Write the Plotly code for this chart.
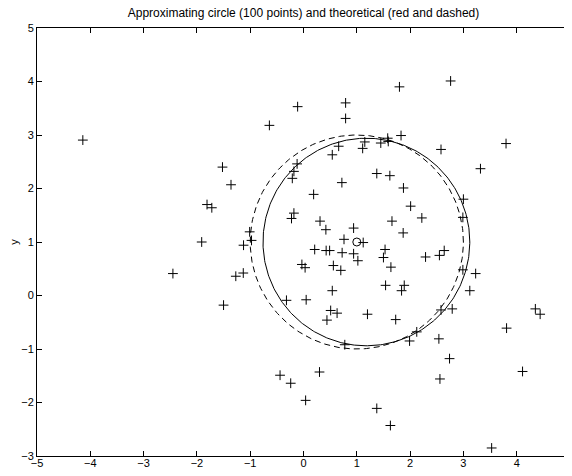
import numpy as np
import plotly.graph_objects as go

# Sample points ('+' markers)
pts_x = [-4.14, -0.11, -0.64, -1.52, -1.36, -1.81, -1.72, -1.91, -1.01, -0.975,
         -1.125, -2.45, -1.27, -1.13, -1.50, -0.44, -0.24, -0.32, -0.12, -0.18,
         -0.21, -0.18, -0.225, -0.03, 0.03,
         1.80, 2.76, 0.79, 0.79, 1.83, 1.58, 1.59, 1.45, 1.15, 1.11,
         0.66, 0.54, 2.58, 3.80, 3.32, 1.375, 1.62, 0.72, 0.19, 1.875,
         2.01, 3.00, 2.99, 2.22, 0.31, 0.42, 0.94, 1.66, 1.87, 0.76,
         1.12, 0.21, 0.425, 0.49, 0.725, 0.94, 1.02, 1.53, 1.50, 1.64,
         2.29, 2.55, 2.64, 0.56, 0.70, 0.54, 0.05, 1.54, 1.89, 1.84,
         2.99, 3.23, 3.12, 0.51, 0.63, 0.44, 1.20, 1.73, 2.58, 2.79,
         4.35, 4.44, 3.81, 2.125, 1.99, 2.54, 0.775, 2.74, 0.30, 2.56,
         4.11, 0.04, 1.375, 1.63, 3.53]
pts_y = [2.905, 3.53, 3.18, 2.40, 2.07, 1.70, 1.64, 1.00, 1.19, 1.03,
         0.94, 0.41, 0.36, 0.42, -0.18, -1.49, -1.64, -0.09, 2.46, 2.32,
         2.19, 1.54, 1.44, 0.58, 0.52,
         3.90, 4.01, 3.60, 3.31, 2.99, 2.94, 2.88, 2.85, 2.87, 2.75,
         2.79, 2.63, 2.73, 2.84, 2.37, 2.28, 2.24, 2.11, 1.89, 2.01,
         1.67, 1.80, 1.46, 1.45, 1.39, 1.23, 1.26, 1.39, 1.17, 1.05,
         0.99, 0.86, 0.84, 0.84, 0.80, 0.78, 0.65, 0.86, 0.71, 0.53,
         0.72, 0.75, 0.84, 0.56, 0.47, 0.09, -0.08, 0.19, 0.19, 0.09,
         0.48, 0.41, 0.09, -0.28, -0.33, -0.46, -0.35, -0.45, -0.27, -0.25,
         -0.25, -0.35, -0.61, -0.68, -0.85, -0.81, -0.92, -1.18, -1.43, -1.56,
         -1.42, -1.96, -2.11, -2.43, -2.85]

# Theoretical centre (the 'o' marker) and circles
centre_x = [1.0]
centre_y = [1.0]
fit_circle = {"cx": 1.18, "cy": 1.0, "r": 1.94}      # approximating circle (solid)
theo_circle = {"cx": 1.0, "cy": 1.0, "r": 2.0}       # theoretical circle (dashed)

x_ticks = list(range(-5, 6))
y_ticks = list(range(-3, 6))

t = np.linspace(0, 2 * np.pi, 400)
FONT = "Liberation Sans, Arial, sans-serif"

fig = go.Figure()
fig.add_trace(go.Scatter(
    x=pts_x, y=pts_y, mode="markers",
    marker=dict(symbol="cross-thin", size=7, line=dict(color="black", width=1)),
    showlegend=False))
fig.add_trace(go.Scatter(
    x=fit_circle["cx"] + fit_circle["r"] * np.cos(t),
    y=fit_circle["cy"] + fit_circle["r"] * np.sin(t),
    mode="lines", line=dict(color="black", width=1), showlegend=False))
fig.add_trace(go.Scatter(
    x=theo_circle["cx"] + theo_circle["r"] * np.cos(t),
    y=theo_circle["cy"] + theo_circle["r"] * np.sin(t),
    mode="lines", line=dict(color="black", width=1, dash="6px,4px"), showlegend=False))
fig.add_trace(go.Scatter(
    x=centre_x, y=centre_y, mode="markers",
    marker=dict(symbol="circle-open", size=8, color="black", line=dict(width=1)),
    showlegend=False))

axis_common = dict(
    showgrid=False, zeroline=False, showline=True, linecolor="black", linewidth=1,
    mirror="ticks", ticks="inside", ticklen=5, tickcolor="black", tickwidth=1,
    tickfont=dict(family=FONT, size=11, color="black"),
    automargin=False)

fig.update_xaxes(range=[-5, 5], tickvals=x_ticks, ticklabelstandoff=-3, **axis_common)
fig.update_yaxes(range=[-3, 5], tickvals=y_ticks, **axis_common,
                 title=dict(text="y", font=dict(family=FONT, size=11, color="black"),
                            standoff=6))

# x-axis label placed just below the tick labels
fig.add_annotation(text="x", xref="paper", x=0.5, yref="paper", y=0,
                   yanchor="middle", yshift=-22, showarrow=False,
                   font=dict(family=FONT, size=11, color="black"))

# page body has an 8px default margin: figure is sized/offset to compensate
fig.update_layout(
    width=564, height=468,
    margin=dict(l=29, r=2, t=20, b=20),
    paper_bgcolor="white", plot_bgcolor="white",
    title=dict(text="Approximating circle (100 points) and theoretical (red and dashed)",
               font=dict(family=FONT, size=12, color="black"),
               xref="paper", x=0.5, xanchor="center",
               yref="container", y=1 - 5 / 468, yanchor="middle"),
)

fig.write_html("out.html")
